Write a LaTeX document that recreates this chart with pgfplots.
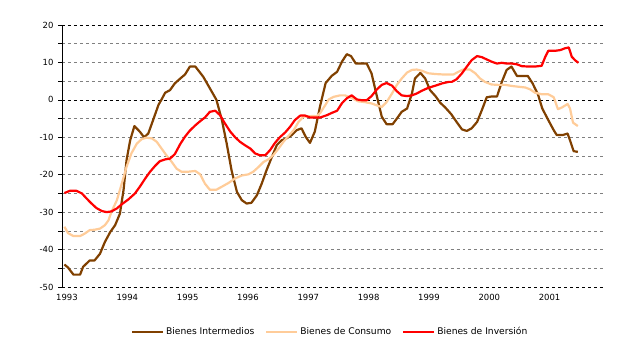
\documentclass[border=0pt]{standalone}
\usepackage{pgfplots}
\pgfplotsset{compat=1.18}
\usepackage{fontspec}
\setmainfont{DejaVu Sans}
\definecolor{cInt}{RGB}{128,64,0}
\definecolor{cCon}{RGB}{255,204,153}
\definecolor{cInv}{RGB}{255,0,0}
\begin{document}
\begin{tikzpicture}
\path[use as bounding box] (0,0) rectangle (640bp,359bp);
\begin{axis}[
  at={(62bp,72bp)}, anchor=south west,
  scale only axis, width=543bp, height=262bp,
  xmin=1993, xmax=2002, ymin=-50, ymax=20,
  axis x line*=bottom, axis y line*=left,
  x axis line style={draw=none},
  y axis line style={black, line width=0.8pt},
  ytick={-50,-40,...,20},
  minor ytick={-45,-35,...,15},
  xtick={1993,...,2001},
  xticklabel style={xshift=5bp},
  x tick style={draw=none},
  /pgf/number format/1000 sep={},
  tick align=outside,
  major tick length=4bp, minor tick length=4bp,
  y tick style={black, line width=0.6pt},
  ymajorgrids, yminorgrids,
  major grid style={gray, dashed, line width=0.6pt},
  minor grid style={gray, dashed, line width=0.6pt},
  font=\fontsize{8.5}{10}\selectfont,
  /pgf/number format/assume math mode=true,
  ticklabel style={font=\fontsize{8.5}{10}\selectfont},
  yticklabel style={xshift=-1bp},
  clip=false,
  legend style={at={(0.494,-0.172)}, anchor=center, draw=none, fill=none,
    font=\fontsize{9.2}{10}\selectfont, legend columns=3,
    /tikz/every even column/.append style={column sep=9bp}},
  legend image code/.code={\draw[#1, line width=2bp] (0bp,0bp) -- (31bp,0bp);},
]
% black dashed reference lines
\draw[black, dashed, line width=0.7pt] (axis cs:1993,20) -- (axis cs:2002,20);
\draw[black, dashed, line width=0.7pt] (axis cs:1993,0) -- (axis cs:2002,0);
\draw[black, dashed, line width=0.7pt] (axis cs:1993,-50) -- (axis cs:2002,-50);
\addplot[cInt, line width=2.2bp, line join=round] coordinates {
(1993.04,-44.0)(1993.10,-44.8)(1993.19,-46.7)(1993.30,-46.7)(1993.35,-44.6)
(1993.46,-42.9)(1993.54,-42.9)(1993.63,-41.1)(1993.71,-38.0)(1993.80,-35.3)
(1993.88,-33.5)(1993.96,-30.4)(1994.02,-24.1)(1994.07,-16.1)(1994.13,-10.8)
(1994.20,-7.0)(1994.29,-8.5)(1994.36,-10.0)(1994.43,-9.0)(1994.51,-5.4)
(1994.60,-1.3)(1994.65,0.1)(1994.71,1.9)(1994.79,2.6)(1994.87,4.4)
(1994.96,5.7)(1995.04,6.8)(1995.12,8.9)(1995.21,8.9)(1995.34,6.2)
(1995.45,3.1)(1995.56,0.0)(1995.65,-5.4)(1995.73,-11.7)(1995.81,-18.8)
(1995.90,-24.6)(1995.98,-26.8)(1996.06,-27.7)(1996.14,-27.5)(1996.23,-25.5)
(1996.31,-22.4)(1996.39,-18.8)(1996.48,-15.2)(1996.56,-12.1)(1996.64,-10.8)
(1996.72,-10.3)(1996.81,-9.4)(1996.89,-8.1)(1996.97,-7.6)(1997.04,-9.9)
(1997.11,-11.5)(1997.19,-8.5)(1997.28,-1.5)(1997.37,4.5)(1997.47,6.4)
(1997.56,7.5)(1997.64,10.2)(1997.72,12.2)(1997.79,11.7)(1997.87,9.7)
(1997.97,9.7)(1998.05,9.7)(1998.13,7.1)(1998.22,0.9)(1998.30,-4.5)
(1998.38,-6.5)(1998.48,-6.5)(1998.55,-5.0)(1998.63,-3.2)(1998.72,-2.3)
(1998.80,1.7)(1998.85,5.7)(1998.94,7.2)(1999.02,5.7)(1999.10,2.6)
(1999.19,1.0)(1999.27,-0.8)(1999.35,-2.0)(1999.45,-3.8)(1999.54,-5.9)
(1999.63,-7.9)(1999.71,-8.3)(1999.79,-7.6)(1999.88,-5.9)(1999.96,-2.7)
(2000.04,0.7)(2000.12,0.9)(2000.21,0.9)(2000.29,4.8)(2000.37,8.0)
(2000.45,8.9)(2000.54,6.4)(2000.62,6.4)(2000.72,6.4)(2000.80,4.4)
(2000.89,1.4)(2000.96,-2.3)(2001.06,-5.4)(2001.15,-8.1)(2001.20,-9.4)
(2001.30,-9.4)(2001.38,-9.0)(2001.42,-10.8)(2001.48,-13.7)(2001.55,-13.9)
};
\addlegendentry{Bienes Intermedios}
\addplot[cCon, line width=2.2bp, line join=round] coordinates {
(1993.04,-33.9)(1993.10,-35.6)(1993.19,-36.4)(1993.30,-36.4)(1993.38,-35.7)
(1993.46,-34.8)(1993.54,-34.7)(1993.63,-34.4)(1993.71,-33.5)(1993.77,-32.2)
(1993.82,-29.9)(1993.91,-26.8)(1993.99,-22.4)(1994.07,-17.9)(1994.15,-14.3)
(1994.24,-11.7)(1994.32,-10.5)(1994.40,-10.1)(1994.49,-10.3)(1994.57,-11.2)
(1994.65,-13.0)(1994.73,-14.8)(1994.82,-16.6)(1994.90,-18.4)(1994.98,-19.2)
(1995.09,-19.2)(1995.21,-19.0)(1995.29,-19.9)(1995.37,-22.4)(1995.45,-24.0)
(1995.56,-24.0)(1995.65,-23.2)(1995.76,-22.2)(1995.87,-21.0)(1995.98,-20.2)
(1996.09,-19.9)(1996.17,-19.2)(1996.26,-17.9)(1996.34,-16.6)(1996.42,-15.9)
(1996.50,-14.8)(1996.59,-13.0)(1996.67,-11.2)(1996.75,-9.7)(1996.84,-8.1)
(1996.92,-5.9)(1997.00,-4.5)(1997.08,-4.4)(1997.17,-4.3)(1997.22,-4.4)
(1997.28,-3.5)(1997.36,-1.5)(1997.42,0.1)(1997.50,0.8)(1997.61,1.2)
(1997.69,1.2)(1997.80,0.5)(1997.91,-0.4)(1998.02,-0.6)(1998.14,-1.0)
(1998.22,-1.5)(1998.30,-1.9)(1998.38,-0.6)(1998.47,1.7)(1998.55,4.0)
(1998.63,5.7)(1998.72,7.3)(1998.80,8.0)(1998.88,8.1)(1998.96,7.8)
(1999.07,7.1)(1999.19,6.9)(1999.30,6.8)(1999.41,6.8)(1999.49,6.8)
(1999.57,7.5)(1999.65,8.1)(1999.76,8.1)(1999.85,7.1)(1999.93,5.7)
(2000.01,4.8)(2000.12,4.1)(2000.23,4.0)(2000.35,4.0)(2000.46,3.7)
(2000.57,3.5)(2000.68,3.3)(2000.76,2.8)(2000.84,1.9)(2000.95,1.5)
(2001.06,1.5)(2001.15,0.7)(2001.22,-2.5)(2001.29,-2.0)(2001.38,-1.1)
(2001.42,-2.3)(2001.47,-6.1)(2001.55,-7.0)
};
\addlegendentry{Bienes de Consumo}
\addplot[cInv, line width=2.2bp, line join=round] coordinates {
(1993.04,-24.9)(1993.13,-24.3)(1993.24,-24.3)(1993.33,-25.0)(1993.41,-26.4)
(1993.49,-27.7)(1993.57,-28.9)(1993.66,-29.7)(1993.74,-30.0)(1993.82,-29.8)
(1993.91,-29.0)(1993.99,-27.9)(1994.10,-26.6)(1994.21,-25.0)(1994.29,-23.2)
(1994.38,-21.0)(1994.46,-19.2)(1994.54,-17.7)(1994.62,-16.4)(1994.71,-15.9)
(1994.79,-15.7)(1994.87,-14.5)(1994.96,-11.8)(1995.04,-9.8)(1995.12,-8.2)
(1995.21,-6.8)(1995.29,-5.7)(1995.37,-4.7)(1995.45,-3.2)(1995.54,-2.9)
(1995.62,-4.1)(1995.70,-6.3)(1995.79,-8.5)(1995.87,-10.0)(1995.95,-11.2)
(1996.03,-12.1)(1996.12,-13.0)(1996.20,-14.3)(1996.28,-14.8)(1996.37,-14.8)
(1996.45,-13.4)(1996.53,-11.5)(1996.61,-10.0)(1996.70,-8.7)(1996.78,-7.2)
(1996.86,-5.4)(1996.95,-4.2)(1997.03,-4.2)(1997.11,-4.7)(1997.19,-4.7)
(1997.28,-4.7)(1997.39,-4.1)(1997.47,-3.5)(1997.56,-2.9)(1997.64,-0.9)
(1997.72,0.4)(1997.80,1.2)(1997.89,0.1)(1997.97,-0.1)(1998.05,-0.1)
(1998.13,1.0)(1998.22,2.8)(1998.30,4.0)(1998.38,4.5)(1998.47,3.8)
(1998.55,2.3)(1998.63,1.2)(1998.72,1.0)(1998.80,1.2)(1998.88,1.7)
(1998.96,2.4)(1999.07,3.2)(1999.19,3.8)(1999.30,4.4)(1999.41,4.8)
(1999.46,4.8)(1999.54,5.5)(1999.63,7.1)(1999.71,8.9)(1999.79,10.6)
(1999.88,11.7)(1999.96,11.4)(2000.04,10.8)(2000.12,10.2)(2000.21,9.7)
(2000.29,9.9)(2000.37,9.7)(2000.46,9.7)(2000.54,9.5)(2000.62,9.0)
(2000.73,8.9)(2000.84,8.9)(2000.95,9.1)(2001.01,11.5)(2001.06,13.1)
(2001.17,13.1)(2001.26,13.3)(2001.34,13.8)(2001.40,14.0)(2001.45,11.5)
(2001.51,10.5)(2001.56,9.9)
};
\addlegendentry{Bienes de Inversión}
\end{axis}
\end{tikzpicture}
\end{document}
